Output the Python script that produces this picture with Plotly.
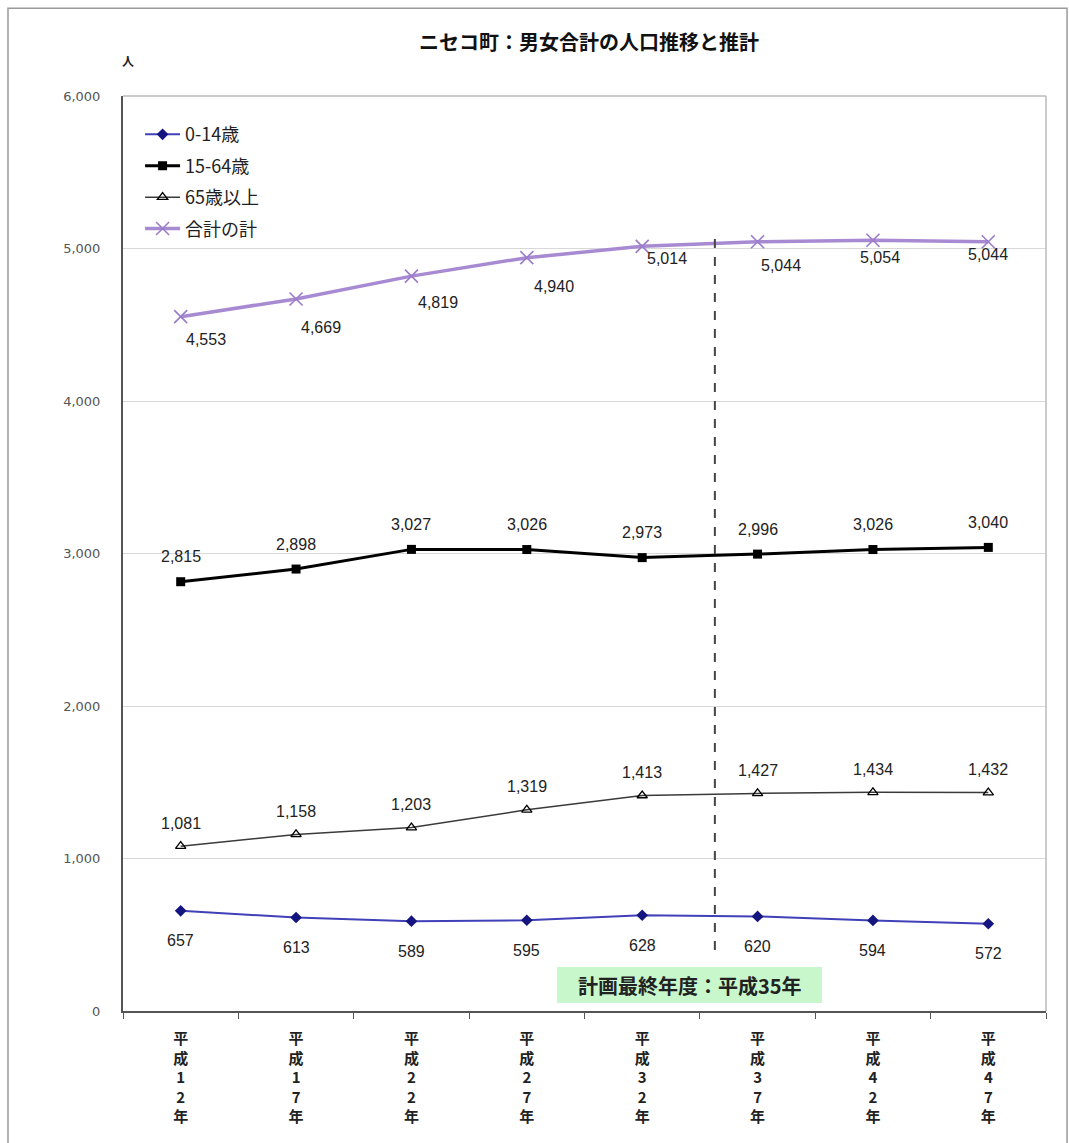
import plotly.graph_objects as go

categories = ["平成12年", "平成17年", "平成22年", "平成27年", "平成32年", "平成37年", "平成42年", "平成47年"]
tick_labels = ["平<br>成<br>1<br>2<br>年", "平<br>成<br>1<br>7<br>年", "平<br>成<br>2<br>2<br>年", "平<br>成<br>2<br>7<br>年",
               "平<br>成<br>3<br>2<br>年", "平<br>成<br>3<br>7<br>年", "平<br>成<br>4<br>2<br>年", "平<br>成<br>4<br>7<br>年"]
age_0_14 = [657, 613, 589, 595, 628, 620, 594, 572]
age_15_64 = [2815, 2898, 3027, 3026, 2973, 2996, 3026, 3040]
age_65_plus = [1081, 1158, 1203, 1319, 1413, 1427, 1434, 1432]
total = [4553, 4669, 4819, 4940, 5014, 5044, 5054, 5044]
y_ticks = [0, 1000, 2000, 3000, 4000, 5000, 6000]
plan_final_index = 4.63  # 平成35年 marker line position on category axis

JP = "Noto Sans CJK JP"
NUM = "Liberation Sans, Arial"

fig = go.Figure()
xs = list(range(len(categories)))

fig.add_trace(go.Scatter(x=xs, y=age_0_14, name="0-14歳", mode="lines+markers",
                         line=dict(color="#4040b8", width=2),
                         marker=dict(symbol="diamond", size=9, color="#151580"),
                         legendgroup="a"))
fig.add_trace(go.Scatter(x=xs, y=age_15_64, name="15-64歳", mode="lines+markers",
                         line=dict(color="#000000", width=3),
                         marker=dict(symbol="square", size=9, color="#000000"),
                         legendgroup="b"))
fig.add_trace(go.Scatter(x=xs, y=age_65_plus, name="65歳以上", mode="lines+markers",
                         line=dict(color="#3a3a3a", width=1.5),
                         marker=dict(symbol="triangle-up-open", size=9, color="#000000", line=dict(width=1.3)),
                         legendgroup="c"))
fig.add_trace(go.Scatter(x=xs, y=total, name="合計の計", mode="lines+markers",
                         line=dict(color="#a88ad2", width=3.5),
                         marker=dict(symbol="x-thin-open", size=13, color="#9b7cc8", line=dict(width=1.6, color="#9b7cc8")),
                         legendgroup="d"))

annotations = []
label_font = dict(family=NUM, size=16, color="#222222")
for i, v in enumerate(age_0_14):
    annotations.append(dict(x=i, y=v, text=f"{v:,}", showarrow=False, yshift=-30, font=label_font))
for i, v in enumerate(age_15_64):
    annotations.append(dict(x=i, y=v, text=f"{v:,}", showarrow=False, yshift=25, font=label_font))
for i, v in enumerate(age_65_plus):
    annotations.append(dict(x=i, y=v, text=f"{v:,}", showarrow=False, yshift=23, font=label_font))
total_dx = [25, 25, 27, 27, 25, 23, 7, 0]
total_dy = [-23, -29, -26, -29, -12, -24, -17, -13]
for i, v in enumerate(total):
    annotations.append(dict(x=i, y=v, text=f"{v:,}", showarrow=False, xshift=total_dx[i], yshift=total_dy[i], font=label_font))

annotations.append(dict(xref="paper", yref="paper", x=0.505, y=1.0, yshift=71, text="<b>ニセコ町：男女合計の人口推移と推計</b>",
                        showarrow=False, font=dict(family=JP, size=20, color="#111111")))
annotations.append(dict(xref="paper", yref="paper", x=0.0, y=1.0, xanchor="center", xshift=5, yshift=46, text="<b>人</b>",
                        showarrow=False, font=dict(family=JP, size=12, color="#222222")))
annotations.append(dict(x=4.414, y=170, yref="y", text="<b>計画最終年度：平成35年</b>",
                        showarrow=False, font=dict(family=JP, size=20, color="#222222")))

shapes = [
    dict(type="rect", xref="x", yref="y", x0=3.262, x1=5.558, y0=52, y1=289,
         fillcolor="#c8f7cc", line=dict(width=0), layer="below"),
    dict(type="line", xref="x", yref="y", x0=plan_final_index, x1=plan_final_index, y0=400, y1=5100,
         line=dict(color="#444444", width=2, dash="dash")),
    dict(type="rect", xref="paper", yref="paper", x0=-0.1246, x1=1.0228, y0=-0.2, y1=1.096,
         line=dict(color="#9a9a9a", width=1.5)),
]

fig.update_layout(
    width=1069, height=1143,
    margin=dict(l=123, r=23, t=96, b=132),
    paper_bgcolor="white", plot_bgcolor="white",
    annotations=annotations, shapes=shapes,
    legend=dict(x=0.0185, y=0.978, xanchor="left", yanchor="top", font=dict(family=JP, size=18, color="#222222"),
                tracegroupgap=5, bgcolor="rgba(0,0,0,0)", itemwidth=35),
    xaxis=dict(range=[-0.5, 7.5], tickvals=xs, ticktext=[f"<b>{t}</b>" for t in tick_labels], ticks="",
               tickfont=dict(family=JP, size=15, color="#222222"), ticklabelstandoff=13,
               showgrid=False, showline=True, linecolor="#555555", linewidth=2, mirror=False,
               minor=dict(tickvals=[i - 0.5 for i in range(len(categories) + 1)], ticks="outside", ticklen=6,
                          tickcolor="#555555", showgrid=False),
               zeroline=False),
    yaxis=dict(range=[0, 6000], tickvals=y_ticks, tickformat=",d",
               tickfont=dict(family="DejaVu Sans", size=13, color="#555555"),
               showgrid=True, gridcolor="#d8d8d8", gridwidth=1.3,
               showline=True, linecolor="#555555", linewidth=2, zeroline=False, ticks="", ticklabelstandoff=18),
)
fig.add_shape(type="line", xref="paper", yref="paper", x0=1, x1=1, y0=0, y1=1, line=dict(color="#bbbbbb", width=1.5))
fig.add_shape(type="line", xref="paper", yref="paper", x0=0, x1=1, y0=1, y1=1, line=dict(color="#bbbbbb", width=1.5))

fig.write_html("out.html")
